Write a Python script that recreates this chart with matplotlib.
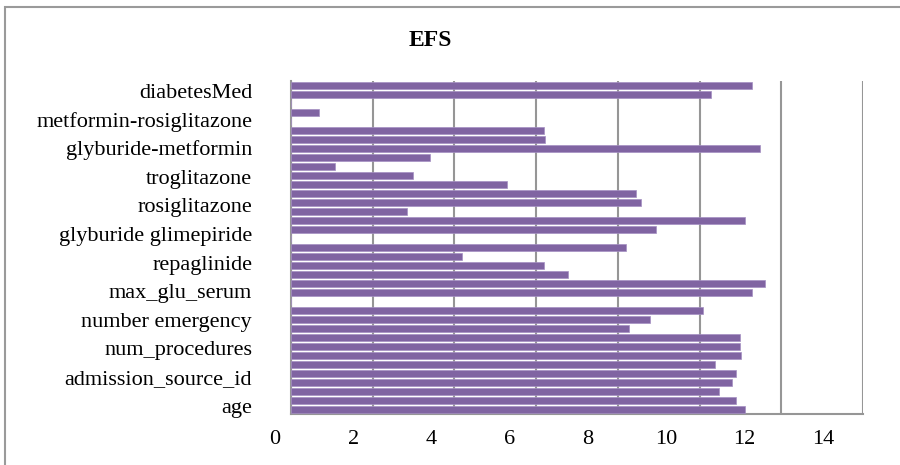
import numpy as np
import matplotlib
matplotlib.use("Agg")
import matplotlib.pyplot as plt
from matplotlib.patches import Rectangle
from matplotlib.transforms import blended_transform_factory

plt.rcParams['font.family'] = ['Liberation Serif', 'DejaVu Serif']

# bar values, bottom (age) to top (diabetesMed)
values = [11.12, 10.89, 10.47, 10.79, 10.89, 10.37, 11.02, 10.99, 10.99,
          8.28, 8.79, 10.09, 0, 11.29, 11.59, 6.78, 6.19, 4.19, 8.19, 0,
          8.94, 11.12, 2.84, 8.56, 8.44, 5.28, 2.98, 1.08, 3.39, 11.48,
          6.21, 6.19, 0, 0.68, 0, 10.29, 11.29]

# only every few categories carries a visible label
shown_labels = ["age", "admission_source_id", "num_procedures",
                "number emergency", "max_glu_serum", "repaglinide",
                "glyburide glimepiride", "rosiglitazone", "troglitazone",
                "glyburide-metformin", "metformin-rosiglitazone", "diabetesMed"]

x_tick_labels = [0, 2, 4, 6, 8, 10, 12, 14]

BAR = '#8064A2'
GRID = '#969696'

fig = plt.figure(figsize=(9, 4.65), dpi=100)
ax = fig.add_axes([291 / 900, 1 - 414.3 / 465, 572 / 900, 333.7 / 465])

pos = np.arange(len(values))
ax.barh(pos, values, height=0.78, color=BAR, edgecolor='#a48fc2',
        linewidth=0.5, zorder=3)

ax.set_xlim(0, 14)
ax.set_ylim(-0.5, len(values) - 0.5)

# vertical gridlines (the last one forms the right edge)
ax.set_xticks(np.arange(0, 15, 2))
ax.xaxis.grid(True, color=GRID, linewidth=1.5, zorder=0)
ax.tick_params(axis='x', length=0, labelbottom=False)

for s in ['top', 'right']:
    ax.spines[s].set_visible(False)
for s in ['left', 'bottom']:
    ax.spines[s].set_color(GRID)
    ax.spines[s].set_linewidth(1.5)

# y labels, spread a little wider than the bar slots as in the original
ax.set_yticks(np.linspace(0.44, 35.4, len(shown_labels)), shown_labels)
ax.tick_params(axis='y', length=0, pad=28, labelsize=16)

# x labels sit on a slightly compressed scale relative to the gridlines
px_per_unit = 572 / 14
lab_px_per_unit = (823 - 275) / 14
off = (275 - 291) / px_per_unit
trans = blended_transform_factory(ax.transData, ax.transAxes)
for v in x_tick_labels:
    ax.text(v * lab_px_per_unit / px_per_unit + off, -25.5 / 333.7, str(v),
            transform=trans, ha='center', va='center', fontsize=16,
            clip_on=False)

fig.text(430 / 900, 1 - 40 / 465, "EFS", ha='center', va='center',
         fontsize=17, fontweight='bold')

fig.patches.append(Rectangle((4.5 / 900, -0.05), 1.0, 1 - 7 / 465 + 0.05,
                             transform=fig.transFigure, fill=False,
                             edgecolor='#9a9a9a', linewidth=1.5))

fig.savefig("out.png", dpi=100)
